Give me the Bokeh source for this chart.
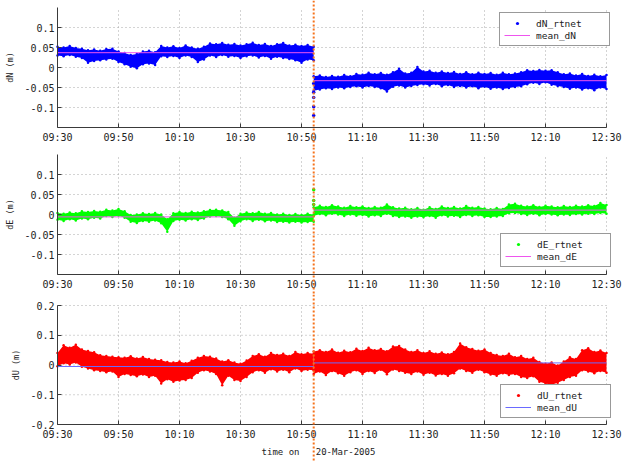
from bokeh.plotting import figure
from bokeh.layouts import column
from bokeh.models import Range1d, FixedTicker, Span, Legend, LegendItem
from bokeh.embed import file_html
from bokeh.resources import INLINE

# ---- time axis: minutes after 09:30 on 20-Mar-2005 ----
tick_minutes = [0, 20, 40, 60, 80, 100, 120, 140, 160, 180]
tick_labels = ["09:30", "09:50", "10:10", "10:30", "10:50",
               "11:10", "11:30", "11:50", "12:10", "12:30"]
jump_minute = 84          # reference-station switch (10:54)
t_before = list(range(0, 85, 2))
t_after = list(range(84, 181, 2))

# ---- dN (m): upper / lower edge of the scatter cloud ----
dN_hi_before = [0.052, 0.050, 0.054, 0.049, 0.047, 0.043, 0.045, 0.042, 0.046, 0.047,
                0.040, 0.036, 0.031, 0.034, 0.040, 0.042, 0.038, 0.054, 0.050, 0.053,
                0.049, 0.055, 0.050, 0.047, 0.052, 0.060, 0.058, 0.061, 0.057, 0.059,
                0.055, 0.058, 0.062, 0.056, 0.059, 0.054, 0.058, 0.061, 0.055, 0.057,
                0.054, 0.056, 0.052]
dN_lo_before = [0.030, 0.028, 0.031, 0.027, 0.024, 0.012, 0.016, 0.018, 0.020, 0.022,
                0.014, 0.008, 0.002, -0.002, 0.008, 0.010, 0.006, 0.028, 0.026, 0.029,
                0.024, 0.030, 0.026, 0.014, 0.020, 0.030, 0.026, 0.031, 0.027, 0.029,
                0.024, 0.028, 0.030, 0.025, 0.029, 0.022, 0.027, 0.024, 0.021, 0.018,
                0.012, 0.020, 0.018]
dN_hi_after = [-0.022, -0.020, -0.024, -0.021, -0.023, -0.019, -0.022, -0.016, -0.018, -0.013,
               -0.017, -0.014, -0.018, -0.012, -0.003, -0.015, -0.013, 0.001, -0.010, -0.008,
               -0.013, -0.010, -0.014, -0.011, -0.016, -0.012, -0.017, -0.013, -0.016, -0.014,
               -0.018, -0.013, -0.017, -0.015, -0.012, -0.007, -0.009, -0.006, -0.008, -0.007,
               -0.012, -0.017, -0.015, -0.020, -0.016, -0.021, -0.018, -0.022, -0.019]
dN_lo_after = [-0.058, -0.055, -0.052, -0.054, -0.050, -0.052, -0.049, -0.047, -0.050, -0.046,
               -0.049, -0.052, -0.060, -0.048, -0.045, -0.050, -0.046, -0.044, -0.042, -0.045,
               -0.041, -0.047, -0.044, -0.049, -0.046, -0.050, -0.047, -0.052, -0.048, -0.053,
               -0.050, -0.054, -0.051, -0.049, -0.047, -0.042, -0.038, -0.041, -0.037, -0.043,
               -0.046, -0.049, -0.053, -0.050, -0.055, -0.052, -0.057, -0.050, -0.054]
dN_jump_points = [-0.040, -0.062, -0.075, -0.098, -0.120]
dN_mean = [0.037, -0.033]

# ---- dE (m) ----
dE_hi_before = [0.004, 0.002, 0.005, 0.003, 0.008, 0.006, 0.009, 0.007, 0.012, 0.010,
                0.014, 0.008, -0.001, 0.000, 0.003, 0.001, 0.004, 0.000, -0.012, 0.003,
                0.006, 0.004, 0.007, 0.005, 0.008, 0.011, 0.012, 0.010, 0.006, -0.008,
                0.002, 0.005, 0.003, 0.006, 0.002, 0.004, 0.000, 0.002, -0.001, 0.001,
                -0.001, 0.002, 0.000]
dE_lo_before = [-0.013, -0.016, -0.012, -0.015, -0.010, -0.012, -0.008, -0.010, -0.004, -0.006,
                -0.003, -0.008, -0.018, -0.021, -0.016, -0.018, -0.015, -0.022, -0.043, -0.016,
                -0.013, -0.015, -0.012, -0.014, -0.010, -0.005, -0.004, -0.006, -0.012, -0.028,
                -0.017, -0.012, -0.016, -0.013, -0.017, -0.015, -0.019, -0.018, -0.020, -0.018,
                -0.020, -0.019, -0.018]
dE_hi_after = [0.018, 0.022, 0.019, 0.023, 0.020, 0.017, 0.021, 0.018, 0.020, 0.016,
               0.019, 0.017, 0.025, 0.018, 0.015, 0.017, 0.013, 0.016, 0.012, 0.018,
               0.014, 0.020, 0.016, 0.019, 0.015, 0.021, 0.017, 0.019, 0.015, 0.013,
               0.016, 0.014, 0.025, 0.027, 0.022, 0.020, 0.023, 0.019, 0.022, 0.020,
               0.018, 0.021, 0.019, 0.022, 0.020, 0.023, 0.021, 0.029, 0.024]
dE_lo_after = [-0.004, 0.001, -0.002, 0.002, 0.000, -0.004, 0.000, -0.003, -0.001, -0.005,
               -0.002, -0.004, 0.002, -0.004, -0.006, -0.005, -0.008, -0.005, -0.007, -0.004,
               -0.008, -0.002, -0.005, -0.003, -0.006, -0.001, -0.004, -0.002, -0.006, -0.006,
               -0.005, -0.004, 0.003, 0.004, 0.001, -0.001, 0.002, -0.002, 0.001, 0.000,
               -0.002, 0.000, -0.001, 0.001, 0.000, 0.002, 0.001, 0.004, 0.002]
dE_jump_points = [0.062, 0.035, 0.025]
dE_mean = [-0.006, 0.011]

# ---- dU (m) ----
dU_hi_before = [0.040, 0.066, 0.058, 0.068, 0.052, 0.047, 0.043, 0.033, 0.030, 0.028,
                0.026, 0.024, 0.029, 0.022, 0.027, 0.020, 0.018, 0.016, 0.010, 0.008,
                0.012, 0.006, 0.014, 0.024, 0.030, 0.028, 0.022, 0.012, 0.016, 0.008,
                0.004, 0.015, 0.030, 0.036, 0.028, 0.040, 0.034, 0.038, 0.030, 0.044,
                0.036, 0.040, 0.038]
dU_lo_before = [-0.004, 0.006, 0.002, 0.008, -0.006, -0.012, -0.018, -0.020, -0.024, -0.022,
                -0.040, -0.030, -0.034, -0.038, -0.032, -0.040, -0.036, -0.062, -0.048, -0.056,
                -0.052, -0.050, -0.044, -0.026, -0.018, -0.022, -0.030, -0.068, -0.036, -0.050,
                -0.054, -0.040, -0.024, -0.018, -0.026, -0.014, -0.022, -0.016, -0.024, -0.012,
                -0.020, -0.016, -0.018]
dU_hi_after = [0.045, 0.050, 0.044, 0.052, 0.041, 0.048, 0.043, 0.055, 0.047, 0.058,
               0.050, 0.054, 0.046, 0.062, 0.064, 0.052, 0.044, 0.050, 0.040, 0.046,
               0.038, 0.042, 0.036, 0.044, 0.072, 0.060, 0.054, 0.048, 0.052, 0.040,
               0.034, 0.030, 0.038, 0.026, 0.030, 0.020, 0.024, 0.010, 0.004, 0.008,
               -0.002, 0.012, 0.026, 0.020, 0.050, 0.056, 0.044, 0.049, 0.040]
dU_lo_after = [-0.030, -0.022, -0.034, -0.020, -0.028, -0.036, -0.024, -0.018, -0.030, -0.020,
               -0.027, -0.016, -0.031, -0.015, -0.020, -0.026, -0.030, -0.022, -0.033, -0.026,
               -0.035, -0.030, -0.036, -0.028, -0.012, -0.020, -0.026, -0.016, -0.024, -0.032,
               -0.036, -0.028, -0.034, -0.030, -0.040, -0.044, -0.038, -0.056, -0.062, -0.066,
               -0.060, -0.050, -0.040, -0.036, -0.018, -0.022, -0.028, -0.020, -0.026]
dU_jump_points = []
dU_mean = [-0.005, 0.007]

FONT = "DejaVu Sans Mono"
TEXT = "#222222"
AXIS = "#3a3a3a"
GRID = "#a8a8a8"
JUMP = "#f5731c"

WIDTH = 622
BOX_LEFT, BOX_RIGHT = 57, 606   # pixel span of 09:30 .. 12:30


def panel(height, pad_top, pad_bottom, ylim, yticks, ygrid_ticks, ylabel, color, mean_color,
          hi_b, lo_b, hi_a, lo_a, jump_vals, means, names, legend_xy, xlabel=None):
    ylo, yhi = ylim
    y_per_px = (yhi - ylo) / (height - pad_top - pad_bottom)
    x0, x1 = tick_minutes[0], tick_minutes[-1]
    x_per_px = (x1 - x0) / (BOX_RIGHT - BOX_LEFT)
    p = figure(width=WIDTH, height=height, output_backend="svg", toolbar_location=None,
               x_range=Range1d(x0 - BOX_LEFT * x_per_px, x1 + (WIDTH - BOX_RIGHT) * x_per_px),
               y_range=Range1d(ylo - pad_bottom * y_per_px, yhi + pad_top * y_per_px),
               min_border_left=0, min_border_right=0, min_border_top=0, min_border_bottom=0,
               background_fill_color="white", border_fill_color="white")
    p.outline_line_color = None

    # axes pinned to the data box (MATLAB look: inward ticks, left & bottom spines only)
    xa = p.xaxis[0]
    xa.fixed_location = ylo
    xa.bounds = (x0, x1)
    xa.ticker = FixedTicker(ticks=tick_minutes)
    xa.major_label_overrides = dict(zip(tick_minutes, tick_labels))
    ya = p.yaxis[0]
    ya.fixed_location = x0
    ya.bounds = (ylo, yhi)
    ya.ticker = FixedTicker(ticks=yticks)
    ya.major_label_overrides = {v: ("0" if v == 0 else f"{v:g}") for v in yticks}
    ya.axis_label = ylabel
    for ax in (xa, ya):
        ax.major_tick_in = 4
        ax.major_tick_out = 0
        ax.minor_tick_line_color = None
        ax.axis_line_color = AXIS
        ax.major_tick_line_color = AXIS
        ax.major_label_text_font = FONT
        ax.major_label_text_font_size = "10px"
        ax.major_label_text_color = TEXT
        ax.axis_label_text_font = FONT
        ax.axis_label_text_font_size = "8.5px"
        ax.axis_label_text_font_style = "normal"
        ax.axis_label_text_color = TEXT
    xa.major_label_standoff = 4
    ya.major_label_standoff = 3
    ya.axis_label_standoff = 6
    if xlabel:
        xa.axis_label = xlabel
        xa.axis_label_text_font_size = "9px"
        xa.axis_label_standoff = 4

    # dotted grid confined to the data box
    p.xgrid.visible = False
    p.ygrid.visible = False
    p.segment(x0=tick_minutes[1:], y0=ylo, x1=tick_minutes[1:], y1=yhi,
              line_color=GRID, line_dash="1 3", line_width=1)
    p.segment(x0=x0, y0=ygrid_ticks, x1=x1, y1=ygrid_ticks,
              line_color=GRID, line_dash="1 3", line_width=1)

    # solution cloud before and after the jump
    for t, hi, lo in ((t_before, hi_b, lo_b), (t_after, hi_a, lo_a)):
        p.varea(x=t, y1=lo, y2=hi, fill_color=color)
    pts = p.scatter(x=t_before + t_after + t_before + t_after,
                    y=hi_b + hi_a + lo_b + lo_a,
                    size=2.5, fill_color=color, line_color=None, marker="circle")
    if jump_vals:
        p.scatter(x=[jump_minute] * len(jump_vals), y=jump_vals, size=3.5,
                  fill_color=color, line_color=None, marker="circle")

    mean_r = p.multi_line(xs=[[t_before[0], t_before[-1]], [t_after[0], t_after[-1]]],
                          ys=[[means[0], means[0]], [means[1], means[1]]],
                          line_color=mean_color, line_width=1)

    p.add_layout(Span(location=jump_minute, dimension="height", line_color=JUMP,
                      line_dash="2 2", line_width=2))

    leg = Legend(items=[LegendItem(label=names[0], renderers=[pts]),
                        LegendItem(label=names[1], renderers=[mean_r])],
                 location=legend_xy, orientation="vertical",
                 padding=4, spacing=0, margin=0,
                 glyph_width=26, glyph_height=8, label_height=12, label_width=69,
                 label_standoff=6, label_text_font=FONT, label_text_font_size="9.5px",
                 label_text_color=TEXT, border_line_color="#333333", border_line_width=1,
                 background_fill_color="white", background_fill_alpha=1)
    p.add_layout(leg)
    return p


yt_small = [-0.1, -0.05, 0, 0.05, 0.1]
yt_up = [-0.2, -0.1, 0, 0.1, 0.2]

p_n = panel(147, 7, 20, (-0.15, 0.15), yt_small, yt_small, "dN (m)", "#0000ff", "#ee55ee",
            dN_hi_before, dN_lo_before, dN_hi_after, dN_lo_after, dN_jump_points, dN_mean,
            ("dN_rtnet", "mean_dN"), (499, 101))
p_e = panel(147, 7, 20, (-0.15, 0.15), yt_small, yt_small, "dE (m)", "#00ff00", "#ee55ee",
            dE_hi_before, dE_lo_before, dE_hi_after, dE_lo_after, dE_jump_points, dE_mean,
            ("dE_rtnet", "mean_dE"), (500, 27))
p_u = panel(168, 11, 38, (-0.2, 0.2), yt_up, yt_up[1:], "dU (m)", "#ff0000", "#6a6aff",
            dU_hi_before, dU_lo_before, dU_hi_after, dU_lo_after, dU_jump_points, dU_mean,
            ("dU_rtnet", "mean_dU"), (500, 44),
            xlabel="time on\u00a0\u00a0\u00a020-Mar-2005" + "\u00a0" * 5)

layout = column(p_n, p_e, p_u, spacing=0)
open("out.html", "w").write(file_html(layout, INLINE))
